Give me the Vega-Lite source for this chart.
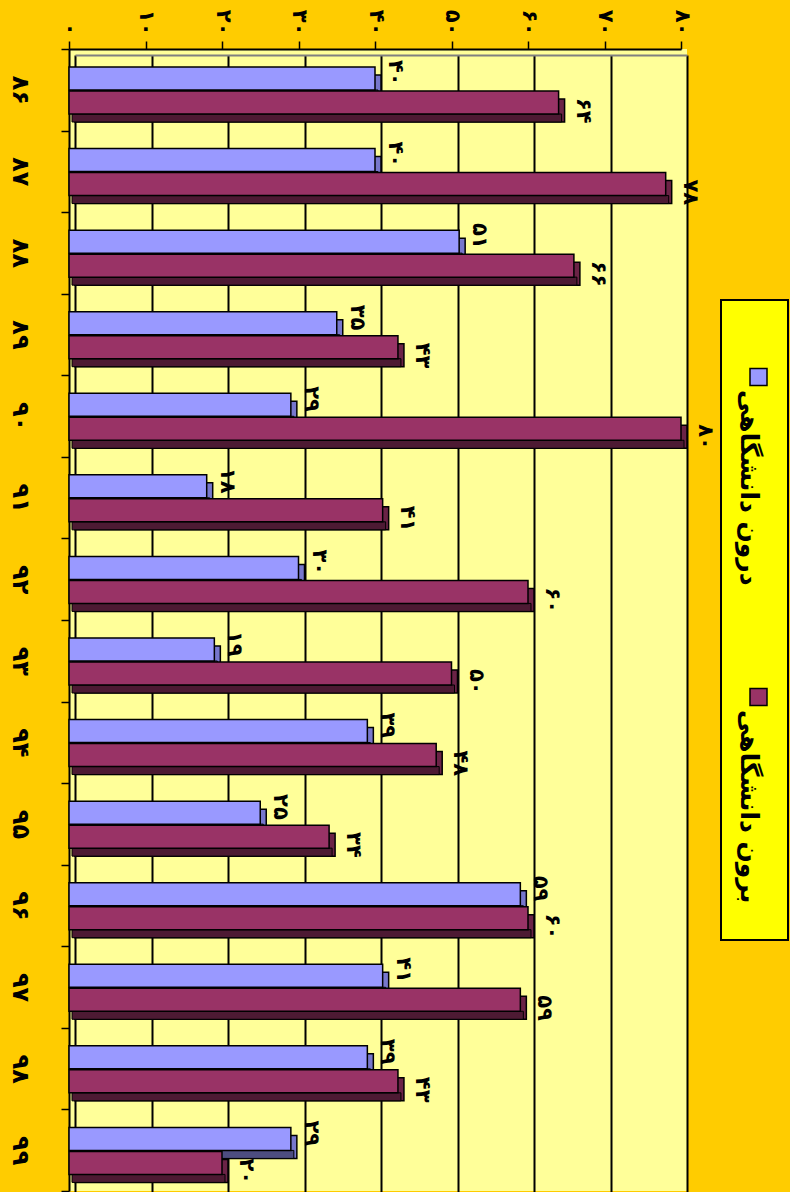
{
  "$schema": "https://vega.github.io/schema/vega-lite/v6.json",
  "background": "#FFCC00",
  "padding": {"left": 6, "top": 9, "right": 3, "bottom": 0},
  "bounds": "flush",
  "center": true,
  "spacing": 34,
  "config": {"font": "DejaVu Sans"},
  "datasets": {
    "d": [
      {"year": "۸۶", "series": "درون دانشگاهی", "value": 40},
      {"year": "۸۶", "series": "برون دانشگاهی", "value": 64},
      {"year": "۸۷", "series": "درون دانشگاهی", "value": 40},
      {"year": "۸۷", "series": "برون دانشگاهی", "value": 78},
      {"year": "۸۸", "series": "درون دانشگاهی", "value": 51},
      {"year": "۸۸", "series": "برون دانشگاهی", "value": 66},
      {"year": "۸۹", "series": "درون دانشگاهی", "value": 35},
      {"year": "۸۹", "series": "برون دانشگاهی", "value": 43},
      {"year": "۹۰", "series": "درون دانشگاهی", "value": 29},
      {"year": "۹۰", "series": "برون دانشگاهی", "value": 80},
      {"year": "۹۱", "series": "درون دانشگاهی", "value": 18},
      {"year": "۹۱", "series": "برون دانشگاهی", "value": 41},
      {"year": "۹۲", "series": "درون دانشگاهی", "value": 30},
      {"year": "۹۲", "series": "برون دانشگاهی", "value": 60},
      {"year": "۹۳", "series": "درون دانشگاهی", "value": 19},
      {"year": "۹۳", "series": "برون دانشگاهی", "value": 50},
      {"year": "۹۴", "series": "درون دانشگاهی", "value": 39},
      {"year": "۹۴", "series": "برون دانشگاهی", "value": 48},
      {"year": "۹۵", "series": "درون دانشگاهی", "value": 25},
      {"year": "۹۵", "series": "برون دانشگاهی", "value": 34},
      {"year": "۹۶", "series": "درون دانشگاهی", "value": 59},
      {"year": "۹۶", "series": "برون دانشگاهی", "value": 60},
      {"year": "۹۷", "series": "درون دانشگاهی", "value": 41},
      {"year": "۹۷", "series": "برون دانشگاهی", "value": 59},
      {"year": "۹۸", "series": "درون دانشگاهی", "value": 39},
      {"year": "۹۸", "series": "برون دانشگاهی", "value": 43},
      {"year": "۹۹", "series": "درون دانشگاهی", "value": 29},
      {"year": "۹۹", "series": "برون دانشگاهی", "value": 20}
    ]
  },
  "hconcat": [
    {
      "width": 618,
      "height": 1142,
      "view": {"fill": "#FFFF99", "stroke": null},
      "data": {"name": "d"},
      "encoding": {
        "y": {
          "field": "year", "type": "nominal", "sort": null,
          "scale": {"domain": ["۸۶","۸۷","۸۸","۸۹","۹۰","۹۱","۹۲","۹۳","۹۴","۹۵","۹۶","۹۷","۹۸","۹۹"], "paddingInner": 0, "paddingOuter": 0},
          "axis": {
            "title": null, "grid": false, "domainColor": "black", "domainWidth": 2,
            "tickColor": "black", "tickSize": 8, "tickWidth": 1.5, "tickBand": "extent",
            "labelAngle": 90, "labelAlign": "center", "labelBaseline": "top",
            "labelFontSize": 24, "labelFontWeight": "bold", "labelColor": "black", "labelPadding": 30
          }
        }
      },
      "layer": [
        {
          "transform": [{"filter": "datum.series === 'درون دانشگاهی'"}],
          "mark": {"type": "bar", "height": 23, "yOffset": -3.3, "xOffset": 6, "x2Offset": 6, "color": "#7777CC", "stroke": "black", "strokeWidth": 1.5},
          "encoding": {
            "x": {
              "field": "value", "type": "quantitative",
              "scale": {"domain": [0, 80], "range": [0, 612], "nice": false, "zero": true},
              "axis": {
                "orient": "top", "title": null, "values": [0,10,20,30,40,50,60,70,80],
                "grid": true, "gridColor": "black", "gridWidth": 2, "labels": false, "ticks": false,
                "domain": true, "domainColor": "#808080", "domainWidth": 2, "translate": 6.5
              }
            }
          }
        },
        {
          "transform": [{"filter": "datum.series === 'درون دانشگاهی'"}],
          "mark": {"type": "bar", "height": 8, "yOffset": 4.2, "xOffset": 3, "x2Offset": 3, "color": "#4D4D80", "stroke": "black", "strokeWidth": 1},
          "encoding": {
            "x": {"field": "value", "type": "quantitative", "axis": null}
          }
        },
        {
          "transform": [{"filter": "datum.series === 'درون دانشگاهی'"}],
          "mark": {"type": "bar", "height": 23, "yOffset": -11.3, "color": "#9999FF", "stroke": "black", "strokeWidth": 1.5},
          "encoding": {
            "x": {
              "field": "value", "type": "quantitative",
              "axis": {
                "orient": "top", "title": null, "values": [0,10,20,30,40,50,60,70,80],
                "grid": false, "domainColor": "black", "domainWidth": 2,
                "tickColor": "black", "tickSize": 8, "tickWidth": 1.5,
                "labelAngle": 90, "labelAlign": "right", "labelBaseline": "middle",
                "labelFontSize": 21, "labelFontWeight": "bold", "labelColor": "black", "labelPadding": 6,
                "labelFlush": false, "labelOverlap": false, "labelBound": false,
                "labelExpr": "replace(replace(replace(replace(replace(replace(replace(replace(replace(replace(toString(datum.value),regexp('0','g'),'۰'),regexp('1','g'),'۱'),regexp('2','g'),'۲'),regexp('3','g'),'۳'),regexp('4','g'),'۴'),regexp('5','g'),'۵'),regexp('6','g'),'۶'),regexp('7','g'),'۷'),regexp('8','g'),'۸'),regexp('9','g'),'۹')"
              }
            }
          }
        },
        {
          "transform": [{"filter": "datum.series === 'برون دانشگاهی'"}],
          "mark": {"type": "bar", "height": 23, "yOffset": 20.7, "xOffset": 6, "x2Offset": 6, "color": "#6B2346", "stroke": "black", "strokeWidth": 1.5},
          "encoding": {
            "x": {"field": "value", "type": "quantitative", "axis": null}
          }
        },
        {
          "transform": [{"filter": "datum.series === 'برون دانشگاهی'"}],
          "mark": {"type": "bar", "height": 8, "yOffset": 28.2, "xOffset": 3, "x2Offset": 3, "color": "#4D1A33", "stroke": "black", "strokeWidth": 1},
          "encoding": {
            "x": {"field": "value", "type": "quantitative", "axis": null}
          }
        },
        {
          "transform": [{"filter": "datum.series === 'برون دانشگاهی'"}],
          "mark": {"type": "bar", "height": 23, "yOffset": 12.7, "color": "#993366", "stroke": "black", "strokeWidth": 1.5},
          "encoding": {
            "x": {"field": "value", "type": "quantitative", "axis": null}
          }
        },
        {
          "transform": [
            {"filter": "datum.series === 'درون دانشگاهی'"},
            {"calculate": "replace(replace(replace(replace(replace(replace(replace(replace(replace(replace(toString(datum.value),regexp('0','g'),'۰'),regexp('1','g'),'۱'),regexp('2','g'),'۲'),regexp('3','g'),'۳'),regexp('4','g'),'۴'),regexp('5','g'),'۵'),regexp('6','g'),'۶'),regexp('7','g'),'۷'),regexp('8','g'),'۸'),regexp('9','g'),'۹')", "as": "lbl"}
          ],
          "mark": {"type": "text", "angle": 90, "align": "center", "baseline": "middle", "fontSize": 21, "fontWeight": "bold", "color": "black", "xOffset": 20, "yOffset": -17},
          "encoding": {
            "x": {"field": "value", "type": "quantitative", "axis": null},
            "text": {"field": "lbl", "type": "nominal"}
          }
        },
        {
          "transform": [
            {"filter": "datum.series === 'برون دانشگاهی'"},
            {"calculate": "replace(replace(replace(replace(replace(replace(replace(replace(replace(replace(toString(datum.value),regexp('0','g'),'۰'),regexp('1','g'),'۱'),regexp('2','g'),'۲'),regexp('3','g'),'۳'),regexp('4','g'),'۴'),regexp('5','g'),'۵'),regexp('6','g'),'۶'),regexp('7','g'),'۷'),regexp('8','g'),'۸'),regexp('9','g'),'۹')", "as": "lbl"}
          ],
          "mark": {"type": "text", "angle": 90, "align": "center", "baseline": "middle", "fontSize": 21, "fontWeight": "bold", "color": "black", "xOffset": 24, "yOffset": 21},
          "encoding": {
            "x": {"field": "value", "type": "quantitative", "axis": null},
            "text": {"field": "lbl", "type": "nominal"}
          }
        }
      ],
      "resolve": {"axis": {"x": "independent"}}
    },
    {
      "width": 67,
      "height": 640,
      "view": {"fill": "#FFFF00", "stroke": "black", "strokeWidth": 2},
      "data": {"name": "d"},
      "transform": [{"aggregate": [{"op": "count", "as": "n"}], "groupby": ["series"]}],
      "encoding": {
        "y": {"field": "series", "type": "nominal", "scale": {"domain": ["درون دانشگاهی", "برون دانشگاهی"], "paddingInner": 0, "paddingOuter": 0}, "axis": null}
      },
      "layer": [
        {
          "mark": {"type": "square", "size": 289, "filled": true, "opacity": 1, "stroke": "black", "strokeWidth": 1.5, "xOffset": 4, "yOffset": -83},
          "encoding": {
            "color": {"field": "series", "type": "nominal", "scale": {"domain": ["درون دانشگاهی", "برون دانشگاهی"], "range": ["#9999FF", "#993366"]}, "legend": null}
          }
        },
        {
          "mark": {"type": "text", "angle": 90, "align": "left", "baseline": "middle", "fontSize": 25, "fontWeight": "bold", "color": "black", "xOffset": -6, "yOffset": -70},
          "encoding": {
            "text": {"field": "series", "type": "nominal"}
          }
        }
      ]
    }
  ]
}
